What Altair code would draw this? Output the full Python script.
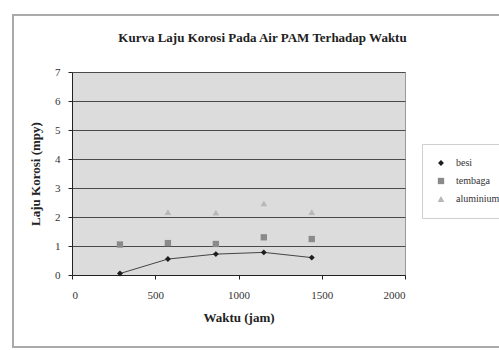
import altair as alt
import pandas as pd

# ---- data ----
waktu = [288, 576, 864, 1152, 1440]
series_names = ["besi", "tembaga", "aluminium"]
besi = [0.05, 0.55, 0.72, 0.78, 0.60]
tembaga = [1.05, 1.10, 1.07, 1.30, 1.24]
aluminium = [None, 2.17, 2.15, 2.47, 2.17]

x_ticks = [0, 500, 1000, 1500, 2000]
y_ticks = [0, 1, 2, 3, 4, 5, 6, 7]

rows = []
for name, vals in zip(series_names, [besi, tembaga, aluminium]):
    for t, v in zip(waktu, vals):
        if v is not None:
            rows.append({"Waktu": t, "Laju": v, "Seri": name})
df = pd.DataFrame(rows)

FONT = "Liberation Serif"
W, H = 333, 203
L, T = 72, 72

x = alt.X("Waktu:Q", scale=alt.Scale(domain=[0, 2000], nice=False),
          axis=alt.Axis(title="Waktu (jam)", values=x_ticks, grid=False, format="d",
                        labelFont=FONT, labelFontSize=11, titleFont=FONT,
                        tickSize=4, labelPadding=10, titlePadding=11))
y = alt.Y("Laju:Q", scale=alt.Scale(domain=[0, 7], nice=False),
          axis=alt.Axis(title="Laju Korosi (mpy)", values=y_ticks,
                        labelFont=FONT, labelFontSize=11, titleFont=FONT,
                        tickSize=4, labelPadding=8, titlePadding=12))

color_scale = alt.Scale(domain=series_names, range=["#1e1e1e", "#8a8a8a", "#b8b8b8"])
shape_scale = alt.Scale(domain=series_names, range=["diamond", "square", "triangle-up"])
size_scale = alt.Scale(domain=series_names, range=[35, 45, 25])

line = alt.Chart(df).transform_filter(alt.datum.Seri == "besi").mark_line(
    color="#444444", strokeWidth=1
).encode(x=x, y=y)

points = alt.Chart(df).mark_point(filled=True, opacity=1).encode(
    x=x, y=y,
    color=alt.Color("Seri:N", scale=color_scale, sort=series_names,
                    legend=alt.Legend(title=None, orient="none",
                                      legendX=350, legendY=72,
                                      strokeColor="#cfcfcf", padding=14,
                                      rowPadding=8, labelFontSize=10,
                                      labelFont=FONT, symbolSize=35,
                                      labelOffset=10, labelColor="#333333")),
    shape=alt.Shape("Seri:N", scale=shape_scale, sort=series_names),
    size=alt.Size("Seri:N", scale=size_scale, sort=series_names, legend=None),
)

frame = alt.Chart(df).mark_rect(fill=None, stroke="#aaaaaa", strokeWidth=2, clip=False).encode(
    x=alt.value(13 - L), x2=alt.value(520 - L),
    y=alt.value(15 - T), y2=alt.value(347 - T),
)

chart = alt.layer(frame, line, points).properties(
    width=W, height=H,
    background="white",
    autosize=alt.AutoSizeParams(type="none"),
    padding={"left": L, "top": T, "right": 499 - L - W, "bottom": 350 - T - H},
    title=alt.TitleParams("Kurva Laju Korosi Pada Air PAM Terhadap Waktu",
                          font=FONT, fontSize=13, fontWeight="bold",
                          anchor="middle", dx=24, offset=0, dy=31, color="#222222"),
).configure_view(fill="#dcdcdc", stroke="#9a9a9a").configure_axis(
    labelFont=FONT, titleFont=FONT, labelFontSize=11, titleFontSize=13,
    titleFontWeight="bold", labelColor="#333333", titleColor="#222222",
    domainColor="#222222", tickColor="#222222", gridColor="#4a4a4a",
    gridWidth=1, gridOpacity=1,
)

chart.save("out.html", embed_options={"renderer": "svg", "actions": False})
